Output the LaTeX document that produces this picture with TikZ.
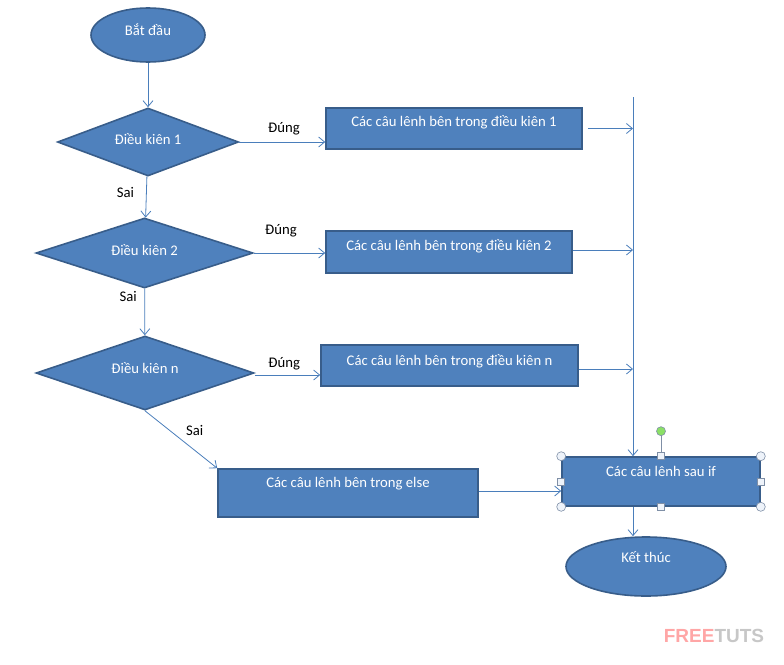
\documentclass[tikz,border=0pt]{standalone}
\usepackage{fontspec}
\setmainfont{Carlito}
\newfontfamily\logofont{Liberation Sans}
\usetikzlibrary{shapes.geometric,arrows.meta}
\definecolor{boxfill}{HTML}{4F81BD}
\definecolor{boxline}{HTML}{385D8A}
\definecolor{flowline}{HTML}{4A7EBB}
\definecolor{handlefill}{HTML}{EEF3FA}
\definecolor{handleline}{HTML}{7F8FA6}

\begin{document}
\begin{tikzpicture}[x=1pt,y=-1pt,
  block/.style={draw=boxline,fill=boxfill,line width=1.6pt,text=white,inner sep=0pt,
    text height=10pt,font=\fontsize{14.7}{17}\selectfont},
  terminal/.style={block,ellipse},
  decision/.style={block,diamond,aspect=2.7},
  process/.style={block,rectangle},
  flow/.style={draw=flowline,line width=0.8pt,-{Straight Barb[length=6pt,width=10pt]}},
  tag/.style={text=black,inner sep=1pt,font=\fontsize{14.7}{17}\selectfont},
  handle/.style={draw=handleline,fill=handlefill,line width=0.6pt}]
  \useasboundingbox (0,0) rectangle (784,664);
  % Start and end.
  \node[terminal,minimum width=114pt,minimum height=54pt,text depth=9pt] (start) at (148,35) {Bắt đầu};
  \node[terminal,minimum width=160pt,minimum height=59pt,text depth=19pt] (stop) at (646,566.5) {Kết thúc};
  % Conditions.
  \node[decision,minimum width=181pt,minimum height=68pt,text depth=5pt] (cond1) at (148,142) {Điều kiên 1};
  \node[decision,minimum width=217pt,minimum height=70pt,text depth=5pt] (cond2) at (144.5,253) {Điều kiên 2};
  \node[decision,minimum width=218pt,minimum height=74pt,text depth=9pt] (condn) at (145,373) {Điều kiên n};
  % Statement blocks.
  \node[process,minimum width=256pt,minimum height=41pt,text depth=14pt] (act1) at (454,128.5) {Các câu lênh bên trong điều kiên 1};
  \node[process,minimum width=246pt,minimum height=42pt,text depth=13pt] (act2) at (449,252) {Các câu lênh bên trong điều kiên 2};
  \node[process,minimum width=257pt,minimum height=41pt,text depth=10pt] (actn) at (449.5,365.5) {Các câu lênh bên trong điều kiên n};
  \node[process,minimum width=260pt,minimum height=48pt,text depth=21pt] (actelse) at (348,493) {Các câu lênh bên trong else};
  \node[process,minimum width=198pt,minimum height=49pt,text depth=20pt] (after) at (661,481.5) {Các câu lênh sau if};
  % Main column.
  \draw[flow] (start) -- (cond1);
  \draw[flow] (cond1) -- node[tag,pos=0.4,left=11pt] (sai1) {Sai} (cond2);
  \draw[flow] (cond2) -- node[tag,pos=0.17,left=6.5pt] (sai2) {Sai} (condn);
  \draw[flow] (condn.south) -- node[tag,pos=0.35,right=14.5pt] (sai3) {Sai} (actelse.north west);
  % True branches.
  \draw[flow] (cond1.east) -- node[tag,pos=0.52,above=5.5pt] (dung1) {Đúng} (act1.west |- cond1.east);
  \draw[flow] (cond2.east) -- node[tag,pos=0.38,above=14.5pt] (dung2) {Đúng} (act2.west |- cond2.east);
  \draw[flow] ([yshift=-2pt]condn.east) -- node[tag,pos=0.45,above=3.5pt] (dungn) {Đúng} ([yshift=-2pt]actn.west |- condn.east);
  % Collecting line.
  \coordinate (bustop) at (633,97);
  \draw[flow] (bustop) -- (bustop |- after.north);
  \draw[flow,shorten <=5pt] (act1.east) -- (act1.east -| bustop);
  \draw[flow] ([yshift=2pt]act2.east) -- ([yshift=2pt]act2.east -| bustop);
  \draw[flow] ([yshift=-3.5pt]actn.east) -- ([yshift=-3.5pt]actn.east -| bustop);
  \draw[flow] ([yshift=2pt]actelse.east) -- ([yshift=2pt]actelse.east -| after.west);
  \draw[flow] (bustop |- after.south) -- (bustop |- stop.north);
  % Selection handles.
  \draw[handleline,line width=0.6pt] (after.north) -- ++(0,-25);
  \fill[draw=handleline,fill=green!60!lime!80!black!60,line width=0.6pt] ([yshift=25pt]after.north) circle (4.5pt);
  \foreach \a in {north west,north east,south west,south east}
    \draw[handle] (after.\a) circle (4.5pt);
  \foreach \a in {north,south,east,west}
    \draw[handle] ([shift={(-3.5pt,-3.5pt)}]after.\a) rectangle ++(7,-7);
  % Watermark.
  \node[font=\logofont\bfseries\fontsize{19}{20}\selectfont,inner sep=0pt] (logo) at (714,636)
    {\textcolor{red!35!white}{FREE}\textcolor{black!22}{TUTS}};
\end{tikzpicture}
\end{document}
